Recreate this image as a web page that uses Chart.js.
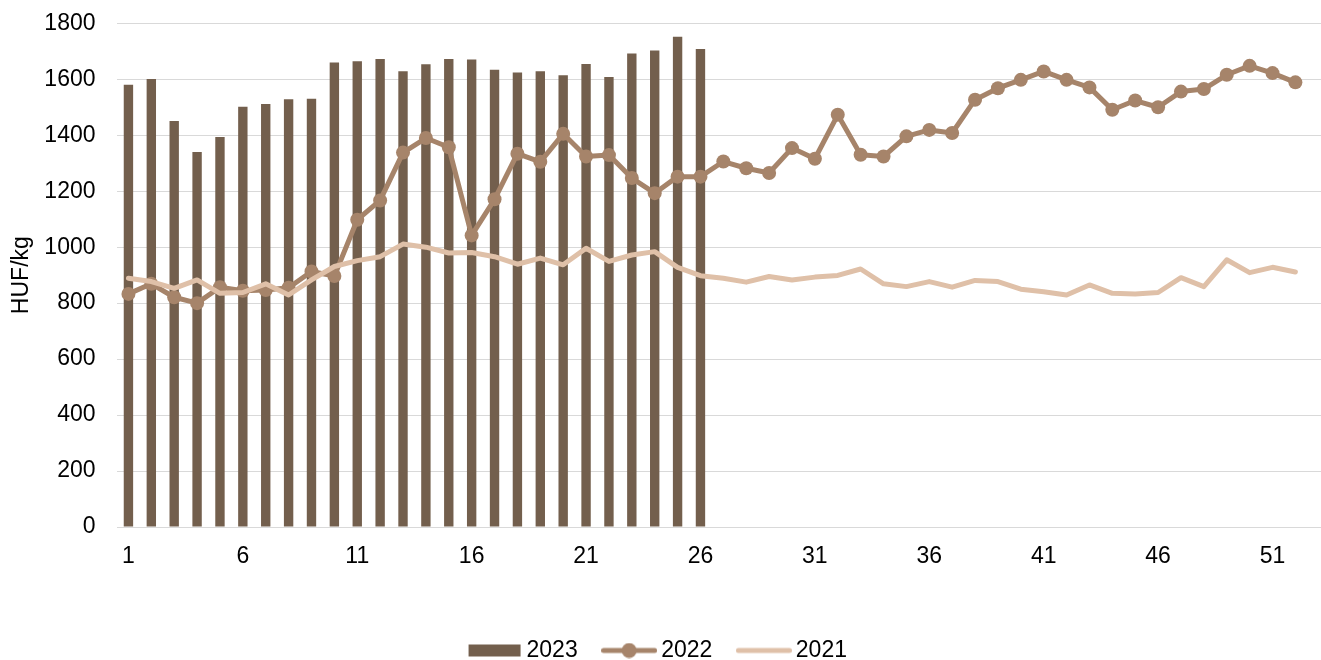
<!DOCTYPE html>
<html><head><meta charset="utf-8">
<script src="https://cdn.jsdelivr.net/npm/chart.js@4"></script>
<style>html,body{margin:0;padding:0;background:#fff;overflow:hidden}#wrap{width:1321px;height:660px;position:relative}canvas{display:block}</style>
</head><body><div id="wrap"><canvas id="c"></canvas></div>
<script>
const weeks = [1,2,3,4,5,6,7,8,9,10,11,12,13,14,15,16,17,18,19,20,21,22,23,24,25,26,27,28,29,30,31,32,33,34,35,36,37,38,39,40,41,42,43,44,45,46,47,48,49,50,51,52];
const tickLabels = [1,6,11,16,21,26,31,36,41,46,51];
const series2023 = [1580,1601,1451,1340,1394,1502,1512,1529,1530,1660,1664,1672,1629,1654,1672,1671,1634,1624,1629,1614,1655,1608,1692,1703,1752,1708];
const series2022 = [833,869,821,800,857,844,847,855,913,897,1098,1167,1338,1390,1357,1042,1171,1334,1305,1405,1324,1329,1247,1193,1252,1252,1306,1282,1265,1354,1316,1473,1330,1324,1396,1419,1408,1527,1568,1598,1628,1598,1571,1491,1524,1500,1556,1565,1616,1648,1622,1589];
const series2021 = [889,877,853,883,835,838,869,829,883,931,952,966,1011,1000,979,981,966,939,961,937,996,949,972,984,928,898,889,875,895,883,893,899,922,869,859,877,857,881,877,850,841,829,865,835,833,838,891,859,955,909,928,911];
const seriesNames = ['2023','2022','2021'];
const yAxisTitle = 'HUF/kg';

const C23 = '#735f4d', C22 = '#a6846a', C21 = '#dfc0a8';
const FONT = {family: "'Liberation Sans', Arial, sans-serif", size: 23};

function makeIcon(kind, color) {
  const cv = document.createElement('canvas');
  cv.width = 56; cv.height = 16;
  const g = cv.getContext('2d');
  if (kind === 'bar') {
    g.fillStyle = color; g.fillRect(2, 2, 52, 12);
  } else {
    g.strokeStyle = color; g.lineWidth = 5; g.lineCap = 'round';
    g.beginPath(); g.moveTo(2.5, 8); g.lineTo(53.5, 8); g.stroke();
    if (kind === 'marker') {
      g.fillStyle = color; g.beginPath(); g.arc(28, 8, 7.5, 0, Math.PI * 2); g.fill();
    }
  }
  return cv;
}
const icons = [makeIcon('bar', C23), makeIcon('marker', C22), makeIcon('line', C21)];

const toXY = (arr) => arr.map((v, i) => ({x: weeks[i], y: v}));

new Chart(document.getElementById('c'), {
  type: 'bar',
  data: {
    datasets: [
      {type: 'bar', label: seriesNames[0], data: toXY(series2023), backgroundColor: C23,
       barPercentage: 0.41, categoryPercentage: 1, order: 3},
      {type: 'line', label: seriesNames[1], data: toXY(series2022), borderColor: C22, backgroundColor: C22,
       borderWidth: 5, pointRadius: 7, pointBackgroundColor: C22, pointBorderWidth: 0, pointHoverRadius: 7,
       tension: 0, borderJoinStyle: 'round', borderCapStyle: 'round', order: 2},
      {type: 'line', label: seriesNames[2], data: toXY(series2021), borderColor: C21, backgroundColor: C21,
       borderWidth: 5, pointRadius: 0, tension: 0, borderJoinStyle: 'round', borderCapStyle: 'round', order: 1}
    ]
  },
  options: {
    responsive: true, maintainAspectRatio: false, animation: false,
    layout: {autoPadding: false, padding: {top: 0, right: 0, bottom: -12, left: 0}},
    plugins: {
      tooltip: {enabled: false},
      legend: {
        position: 'bottom',
        labels: {
          font: FONT, color: '#000', usePointStyle: true, pointStyleWidth: 41, padding: 31,
          generateLabels(chart) {
            const items = Chart.defaults.plugins.legend.labels.generateLabels(chart);
            items.sort((a, b) => a.datasetIndex - b.datasetIndex);
            items.forEach(it => {
              it.pointStyle = icons[it.datasetIndex];
              it.lineWidth = 0;
              it.fontColor = '#000';
            });
            return items;
          }
        }
      }
    },
    scales: {
      x: {
        type: 'linear', min: 0.5, max: 53.12, offset: false,
        grid: {display: false}, border: {display: false},
        afterBuildTicks(s) { s.ticks = tickLabels.map(v => ({value: v})); },
        ticks: {font: FONT, color: '#000', padding: 8, autoSkip: false, maxRotation: 0,
                callback: (v) => String(v)},
        afterFit(s) { s.height = 81; }
      },
      y: {
        min: 0, max: 1800,
        ticks: {stepSize: 200, font: FONT, color: '#000', padding: 9.5, callback: (v) => String(v)},
        grid: {color: '#d9d9d9', lineWidth: 1, drawTicks: true, tickLength: 12, tickColor: 'rgba(0,0,0,0)'},
        border: {display: false},
        title: {display: true, text: yAxisTitle, font: FONT, color: '#000', padding: {top: 8, bottom: 0}},
        afterFit(s) { s.width = 117; }
      }
    }
  }
});
</script>
</body></html>
